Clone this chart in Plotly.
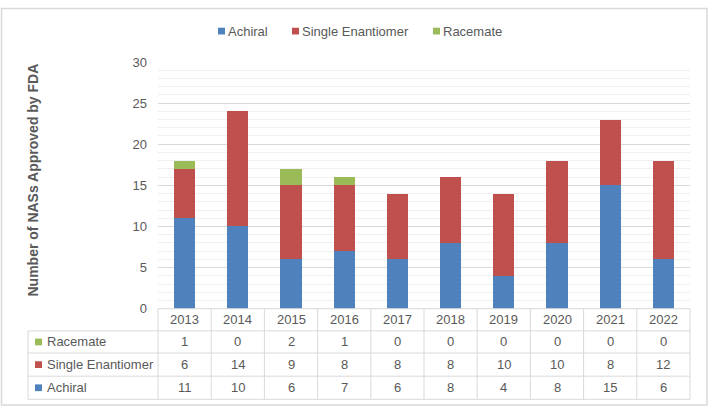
import plotly.graph_objects as go

# ---- data ----
years = ["2013", "2014", "2015", "2016", "2017", "2018", "2019", "2020", "2021", "2022"]
achiral = [11, 10, 6, 7, 6, 8, 4, 8, 15, 6]
single_enantiomer = [6, 14, 9, 8, 8, 8, 10, 10, 8, 12]
racemate = [1, 0, 2, 1, 0, 0, 0, 0, 0, 0]
series_names = ["Achiral", "Single Enantiomer", "Racemate"]
series_colors = ["#4f81bd", "#c0504d", "#9bbb59"]
y_title = "Number of NASs Approved by FDA"

W, H = 709, 416
FONT = "Liberation Sans"
TXT = "#595959"
LINE = "#d9d9d9"


def px(x):
    return x / W


def py(y):
    return 1 - y / H


plot_l, plot_r = 158, 690
plot_t, plot_b = 57, 313
table_l = 28
row_edges = [313, 336, 359, 383, 407]

fig = go.Figure()
for name, vals, col in zip(series_names, [achiral, single_enantiomer, racemate], series_colors):
    fig.add_trace(go.Bar(x=years, y=vals, name=name, marker=dict(color=col, line=dict(width=0)),
                         showlegend=False))

shapes = []
annotations = []

# outer border
shapes.append(dict(type="rect", xref="paper", yref="paper", x0=px(1.5), x1=px(707), y0=py(1.5), y1=py(413),
                   line=dict(color=LINE, width=1.5), layer="below"))

# custom legend on top
leg_y = 25
leg_items = [(218, 226), (292, 300), (433, 441)]
for (sx, tx), name, col in zip(leg_items, series_names, series_colors):
    shapes.append(dict(type="rect", xref="paper", yref="paper", x0=px(sx), x1=px(sx + 7),
                       y0=py(leg_y + 3.5), y1=py(leg_y - 3.5), fillcolor=col, line=dict(width=0)))
    annotations.append(dict(xref="paper", yref="paper", x=px(tx), y=py(leg_y), text=name, showarrow=False,
                            xanchor="left", yanchor="middle", font=dict(family=FONT, size=13, color=TXT)))

# y title
annotations.append(dict(xref="paper", yref="paper", x=px(33), y=py(180), text="<b>" + y_title + "</b>",
                        textangle=-90, showarrow=False, xanchor="center", yanchor="middle",
                        font=dict(family=FONT, size=14, color=TXT)))

# data table grid
ncol = len(years)
colw = (plot_r - plot_l) / ncol
for i in range(ncol + 1):
    xx = plot_l + i * colw
    shapes.append(dict(type="line", xref="paper", yref="paper", x0=px(xx), x1=px(xx),
                       y0=py(row_edges[0]), y1=py(row_edges[-1]), line=dict(color=LINE, width=1)))
shapes.append(dict(type="line", xref="paper", yref="paper", x0=px(table_l), x1=px(table_l),
                   y0=py(row_edges[1]), y1=py(row_edges[-1]), line=dict(color=LINE, width=1)))
shapes.append(dict(type="line", xref="paper", yref="paper", x0=px(plot_l), x1=px(plot_r),
                   y0=py(row_edges[0]), y1=py(row_edges[0]), line=dict(color=LINE, width=1)))
for ye in row_edges[1:]:
    shapes.append(dict(type="line", xref="paper", yref="paper", x0=px(table_l), x1=px(plot_r),
                       y0=py(ye), y1=py(ye), line=dict(color=LINE, width=1)))

# table content (x = category index on the category axis)
tfont = dict(family=FONT, size=13, color=TXT)
header_c = (row_edges[0] + row_edges[1]) / 2
for i, yr in enumerate(years):
    annotations.append(dict(xref="x", yref="paper", x=i, y=py(header_c), text=yr, showarrow=False,
                            xanchor="center", yanchor="middle", font=tfont))
rows = [("Racemate", racemate, series_colors[2]),
        ("Single Enantiomer", single_enantiomer, series_colors[1]),
        ("Achiral", achiral, series_colors[0])]
for r, (name, vals, col) in enumerate(rows):
    yc = (row_edges[r + 1] + row_edges[r + 2]) / 2
    shapes.append(dict(type="rect", xref="paper", yref="paper", x0=px(35), x1=px(42),
                       y0=py(yc + 3.5), y1=py(yc - 3.5), fillcolor=col, line=dict(width=0)))
    annotations.append(dict(xref="paper", yref="paper", x=px(45), y=py(yc), text=name, showarrow=False,
                            xanchor="left", yanchor="middle", font=tfont))
    for i, v in enumerate(vals):
        annotations.append(dict(xref="x", yref="paper", x=i, y=py(yc), text=str(v), showarrow=False,
                                xanchor="center", yanchor="middle", font=tfont))

fig.update_layout(
    width=W, height=H, margin=dict(l=0, r=0, t=0, b=0),
    paper_bgcolor="white", plot_bgcolor="white",
    barmode="stack", bargap=0.6,
    shapes=shapes, annotations=annotations,
    xaxis=dict(type="category", categoryorder="array", categoryarray=years, range=[-0.5, len(years) - 0.5],
               autorange=False, domain=[px(plot_l), px(plot_r)], showticklabels=False, showline=False,
               showgrid=False, zeroline=False, fixedrange=True),
    yaxis=dict(domain=[py(plot_b), py(plot_t)], range=[0, 30], autorange=False, dtick=5, tick0=0,
               showgrid=True, gridcolor=LINE, gridwidth=1, zeroline=False, showline=False, ticks="",
               ticklabelstandoff=10,
               tickfont=dict(family=FONT, size=13, color=TXT),
               minor=dict(dtick=1, showgrid=True, gridcolor="#f0f0f0", gridwidth=1)),
    font=dict(family=FONT, color=TXT),
)

fig.write_html("out.html")
